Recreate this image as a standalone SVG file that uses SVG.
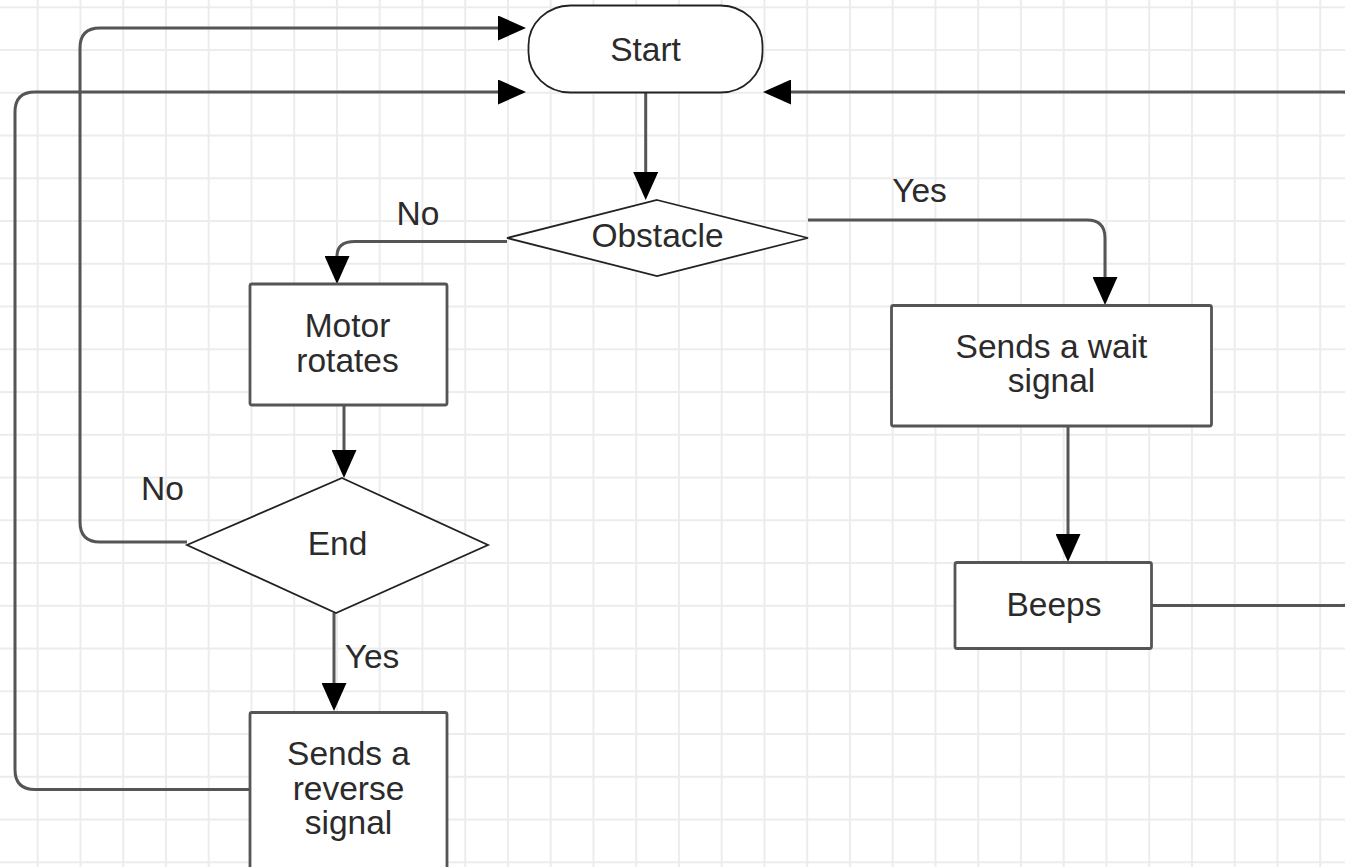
<svg xmlns="http://www.w3.org/2000/svg" width="1345" height="867" viewBox="0 0 1345 867">
<defs>
<pattern id="grid" x="36.7" y="6.3" width="42.75" height="42.75" patternUnits="userSpaceOnUse">
<path d="M1 0V42.75M0 1H42.75" stroke="#ececec" stroke-width="2" fill="none"/>
</pattern>
<marker id="arr" markerUnits="userSpaceOnUse" markerWidth="28" markerHeight="25" viewBox="0 0 28 25" refX="0" refY="12.5" orient="auto">
<path d="M0 0L28 12.5L0 25z" fill="#000"/>
</marker>
<style>
.t{font-family:"Liberation Sans",Arial,sans-serif;font-size:33.5px;fill:#2b2b2b;text-anchor:middle}
.c{fill:none;stroke:#555;stroke-width:3;marker-end:url(#arr)}
.box{fill:#fff;stroke:#555;stroke-width:2.8}
.thin{fill:#fff;stroke:#222;stroke-width:1.8}
</style>
</defs>
<rect width="1345" height="867" fill="#fff"/>
<rect width="1345" height="867" fill="url(#grid)"/>
<g id="connectors">
<path class="c" d="M645.7 93V172"/>
<path class="c" d="M507 241.5H355Q337 241.5 337 256"/>
<path class="c" d="M344 405V450"/>
<path class="c" d="M187 542H100Q80 542 80 522V48Q80 28 100 28H498"/>
<path class="c" d="M334 613V683"/>
<path class="c" d="M250 789.5H35Q15 789.5 15 769.5V112Q15 92 35 92H498"/>
<path class="c" d="M808 220H1087Q1105 220 1105 238V277"/>
<path class="c" d="M1068 426V534"/>
<path class="c" d="M1152 605.5H1342Q1362 605.5 1362 585.5V112Q1362 92 1342 92H791"/>
<text class="t" x="418" y="225">No</text>
<text class="t" x="919.5" y="201.5">Yes</text>
<text class="t" x="162.5" y="500">No</text>
<text class="t" x="372" y="668">Yes</text>
</g>
<g id="start">
<rect class="thin" x="528.5" y="5.5" width="234" height="87" rx="42" ry="40"/>
<text class="t" x="645.5" y="60.5">Start</text>
</g>
<g id="obstacle">
<polygon class="thin" points="657,200 808,238 657,276 507,238"/>
<text class="t" x="657.5" y="246.5">Obstacle</text>
</g>
<g id="motor">
<rect class="box" x="250" y="284" width="197" height="121" rx="2"/>
<text class="t" x="347.5" y="337">Motor</text>
<text class="t" x="347.5" y="372">rotates</text>
</g>
<g id="end">
<polygon class="thin" points="342,478 488,545 336,613 187,545"/>
<text class="t" x="337.5" y="555">End</text>
</g>
<g id="reverse">
<rect class="box" x="250" y="712.5" width="197" height="160" rx="2"/>
<text class="t" x="348.5" y="765">Sends a</text>
<text class="t" x="348.5" y="800">reverse</text>
<text class="t" x="348.5" y="834">signal</text>
</g>
<g id="wait">
<rect class="box" x="891.5" y="305.5" width="320" height="120.5" rx="2"/>
<text class="t" x="1051.5" y="358">Sends a wait</text>
<text class="t" x="1051.5" y="392">signal</text>
</g>
<g id="beeps">
<rect class="box" x="955" y="562.5" width="196.5" height="86" rx="2"/>
<text class="t" x="1054" y="616">Beeps</text>
</g>
</svg>
